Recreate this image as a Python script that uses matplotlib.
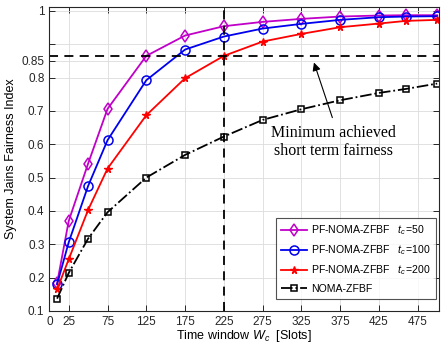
import numpy as np
import matplotlib
matplotlib.use("Agg")
import matplotlib.pyplot as plt

plt.rcParams['font.family'] = ['Liberation Sans', 'DejaVu Sans']
plt.rcParams['mathtext.fontset'] = 'custom'
plt.rcParams['mathtext.rm'] = 'Liberation Sans'
plt.rcParams['mathtext.it'] = 'Liberation Sans:italic'

# data
W = [10, 25, 50, 75, 125, 175, 225, 275, 325, 375, 425, 460, 500]
pf_50 = [0.183, 0.370, 0.542, 0.706, 0.865, 0.926, 0.954, 0.967, 0.976, 0.983, 0.986, 0.987, 0.987]
pf_100 = [0.180, 0.306, 0.475, 0.612, 0.792, 0.884, 0.923, 0.947, 0.961, 0.973, 0.981, 0.983, 0.984]
pf_200 = [0.165, 0.255, 0.403, 0.527, 0.687, 0.798, 0.865, 0.908, 0.931, 0.951, 0.962, 0.970, 0.973]
noma = [0.137, 0.214, 0.317, 0.396, 0.500, 0.568, 0.623, 0.673, 0.705, 0.732, 0.754, 0.766, 0.782]

min_fair = 0.865
w_min = 225

xticks = [0, 25, 75, 125, 175, 225, 275, 325, 375, 425, 475]
yticks = [0.1, 0.2, 0.3, 0.4, 0.5, 0.6, 0.7, 0.8, 0.85, 0.9, 1]
ylabels = ['0.1', '0.2', '0.3', '0.4', '0.5', '0.6', '0.7', '0.8', '0.85', '', '1']

fig = plt.figure(figsize=(4.42, 3.44), dpi=100)
ax = fig.add_axes([0.1116, 0.096, 0.881, 0.885])

ax.plot(W, pf_50, color='#c000c8', lw=1.3, marker='d', ms=6.5, mfc='none', mew=1.1,
        label=r'PF-NOMA-ZFBF   $t_c\!\mathit{=}\!\mathit{50}$')
ax.plot(W, pf_100, color='#0000ee', lw=1.3, marker='o', ms=6.5, mfc='none', mew=1.1,
        label=r'PF-NOMA-ZFBF   $t_c\!\mathit{=}\!\mathit{100}$')
ax.plot(W, pf_200, color='#ff0000', lw=1.3, marker='*', ms=5.5, mew=1.0,
        label=r'PF-NOMA-ZFBF   $t_c\!\mathit{=}\!\mathit{200}$')
ax.plot(W, noma, color='black', lw=1.3, ls='-.', marker='s', ms=4.5, mfc='none', mew=1.1,
        label='NOMA-ZFBF')

# minimum fairness reference lines
ax.axhline(min_fair, color='black', lw=1.3, ls=(0, (5, 3.5)))
ax.axvline(w_min, color='black', lw=1.3, ls=(0, (5, 3.5)))

ax.annotate('', xy=(340, 0.853), xytext=(366, 0.672),
            arrowprops=dict(arrowstyle='-|>', color='black', lw=0.8,
                            mutation_scale=12))
ax.text(366, 0.607, 'Minimum achieved\nshort term fairness', ha='center', va='center',
        family='Liberation Serif', fontsize=11.5, linespacing=1.15)

ax.set_xlim(0, 502)
ax.set_ylim(0.1, 1.013)
ax.set_xticks(xticks)
ax.set_yticks(yticks)
ax.set_yticklabels(ylabels)
ax.tick_params(direction='in', top=True, right=True, labelsize=8.5, length=4,
               width=0.7, colors='#262626')
ax.grid(True, color='#dcdcdc', lw=0.6)
ax.set_axisbelow(True)
for s in ax.spines.values():
    s.set_linewidth(0.8)
    s.set_color('#262626')

ax.set_xlabel(r'Time window $W_c$  [Slots]', fontsize=9, labelpad=0)
ax.set_ylabel('System Jains Fairness Index', fontsize=9, labelpad=3)

leg = ax.legend(loc='lower right', bbox_to_anchor=(0.992, 0.039), fontsize=7.6,
                frameon=True, fancybox=False, edgecolor='#262626',
                handlelength=2.4, borderpad=0.5, labelspacing=0.6,
                borderaxespad=0, handletextpad=0.4)
leg.get_frame().set_linewidth(0.8)

fig.savefig('out.png', dpi=100)
